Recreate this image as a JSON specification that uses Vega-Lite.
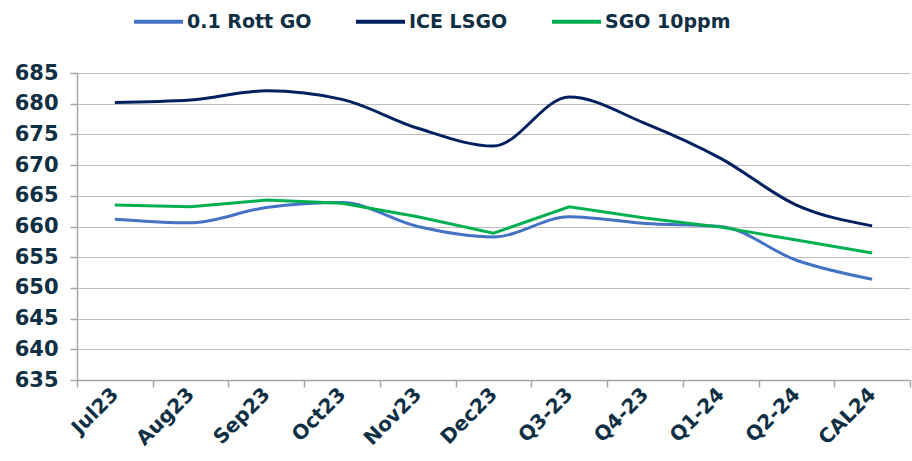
{
  "$schema": "https://vega.github.io/schema/vega-lite/v6.json",
  "width": 833,
  "height": 307,
  "autosize": {"type": "none"},
  "padding": {"left": 77, "top": 73, "right": 2, "bottom": 81},
  "background": "white",
  "data": {
    "values": [
      {"month": "Jul23", "series": "0.1 Rott GO", "value": 661.2},
      {"month": "Aug23", "series": "0.1 Rott GO", "value": 660.6},
      {"month": "Sep23", "series": "0.1 Rott GO", "value": 663.1},
      {"month": "Oct23", "series": "0.1 Rott GO", "value": 663.9},
      {"month": "Nov23", "series": "0.1 Rott GO", "value": 660.0},
      {"month": "Dec23", "series": "0.1 Rott GO", "value": 658.3},
      {"month": "Q3-23", "series": "0.1 Rott GO", "value": 661.6},
      {"month": "Q4-23", "series": "0.1 Rott GO", "value": 660.5},
      {"month": "Q1-24", "series": "0.1 Rott GO", "value": 660.0},
      {"month": "Q2-24", "series": "0.1 Rott GO", "value": 654.5},
      {"month": "CAL24", "series": "0.1 Rott GO", "value": 651.4},
      {"month": "Jul23", "series": "ICE LSGO", "value": 680.2},
      {"month": "Aug23", "series": "ICE LSGO", "value": 680.6},
      {"month": "Sep23", "series": "ICE LSGO", "value": 682.1},
      {"month": "Oct23", "series": "ICE LSGO", "value": 680.7},
      {"month": "Nov23", "series": "ICE LSGO", "value": 676.0},
      {"month": "Dec23", "series": "ICE LSGO", "value": 673.1},
      {"month": "Q3-23", "series": "ICE LSGO", "value": 681.1},
      {"month": "Q4-23", "series": "ICE LSGO", "value": 676.8},
      {"month": "Q1-24", "series": "ICE LSGO", "value": 671.1},
      {"month": "Q2-24", "series": "ICE LSGO", "value": 663.5},
      {"month": "CAL24", "series": "ICE LSGO", "value": 660.1},
      {"month": "Jul23", "series": "SGO 10ppm", "value": 663.5},
      {"month": "Aug23", "series": "SGO 10ppm", "value": 663.2},
      {"month": "Sep23", "series": "SGO 10ppm", "value": 664.3},
      {"month": "Oct23", "series": "SGO 10ppm", "value": 663.8},
      {"month": "Nov23", "series": "SGO 10ppm", "value": 661.6},
      {"month": "Dec23", "series": "SGO 10ppm", "value": 658.9},
      {"month": "Q3-23", "series": "SGO 10ppm", "value": 663.2},
      {"month": "Q4-23", "series": "SGO 10ppm", "value": 661.4},
      {"month": "Q1-24", "series": "SGO 10ppm", "value": 659.9},
      {"month": "Q2-24", "series": "SGO 10ppm", "value": 657.8},
      {"month": "CAL24", "series": "SGO 10ppm", "value": 655.7}
    ]
  },
  "encoding": {
    "x": {
      "field": "month",
      "type": "nominal",
      "sort": null,
      "scale": {"type": "band", "paddingInner": 0, "paddingOuter": 0},
      "axis": {
        "title": null,
        "tickBand": "extent",
        "grid": false,
        "labelAngle": -45,
        "labelAlign": "right",
        "labelBaseline": "middle",
        "labelFont": "DejaVu Sans",
        "labelFontWeight": "bold",
        "labelFontSize": 20,
        "labelColor": "#0f2f45",
        "labelPadding": 4,
        "domainColor": "#a6a6a6",
        "domainWidth": 1.5,
        "tickColor": "#a6a6a6",
        "tickSize": 7,
        "tickWidth": 1.5
      }
    },
    "y": {
      "field": "value",
      "type": "quantitative",
      "scale": {"domain": [635, 685], "zero": false, "nice": false},
      "axis": {
        "title": null,
        "values": [635, 640, 645, 650, 655, 660, 665, 670, 675, 680, 685],
        "labelFont": "DejaVu Sans",
        "labelFontWeight": "bold",
        "labelFontSize": 21,
        "labelColor": "#0f2f45",
        "labelPadding": 12,
        "domainColor": "#a6a6a6",
        "domainWidth": 1.5,
        "tickColor": "#a6a6a6",
        "tickSize": 7,
        "tickWidth": 1.5,
        "gridColor": "#bdbdbd",
        "gridWidth": 1.2
      }
    },
    "color": {
      "field": "series",
      "type": "nominal",
      "scale": {
        "domain": ["0.1 Rott GO", "ICE LSGO", "SGO 10ppm"],
        "range": ["#4472c4", "#002060", "#00b050"]
      },
      "legend": {
        "title": null,
        "orient": "none",
        "legendX": 55,
        "legendY": -78,
        "direction": "horizontal",
        "symbolType": "stroke",
        "symbolSize": 2400,
        "symbolStrokeWidth": 4,
        "labelFont": "DejaVu Sans",
        "labelFontWeight": "bold",
        "labelFontSize": 19,
        "labelColor": "#0f2f45",
        "labelOffset": 2,
        "columnPadding": 36
      }
    }
  },
  "layer": [
    {
      "transform": [{"filter": "datum.series === 'ICE LSGO'"}],
      "mark": {"type": "line", "interpolate": "monotone", "strokeWidth": 3}
    },
    {
      "transform": [{"filter": "datum.series === '0.1 Rott GO'"}],
      "mark": {"type": "line", "interpolate": "monotone", "strokeWidth": 3}
    },
    {
      "transform": [{"filter": "datum.series === 'SGO 10ppm'"}],
      "mark": {"type": "line", "interpolate": "linear", "strokeWidth": 3}
    }
  ],
  "config": {
    "view": {"stroke": null}
  }
}
